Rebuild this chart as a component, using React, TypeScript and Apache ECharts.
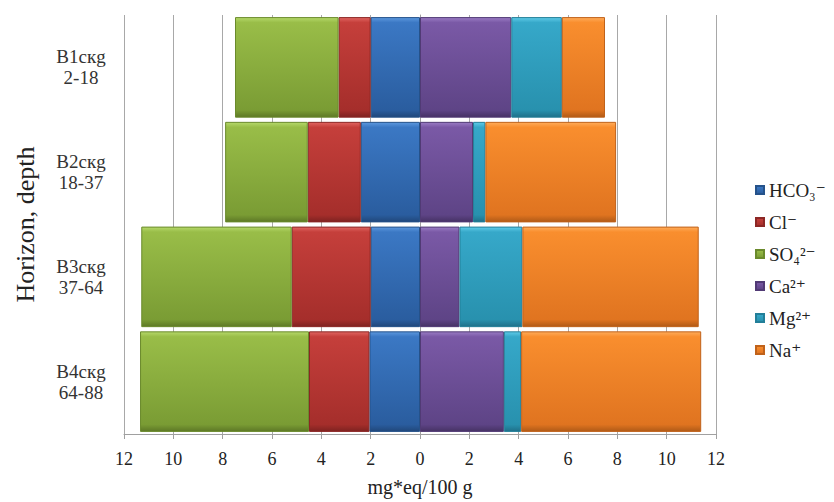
import React, { useEffect, useRef } from "react";
import * as echarts from "echarts";

const categories = ["B1скg\n2-18", "B2скg\n18-37", "B3скg\n37-64", "B4скg\n64-88"];
const hco3 = [2.0, 2.4, 2.0, 2.05];
const cl = [1.3, 2.15, 3.2, 2.45];
const so4 = [4.2, 3.35, 6.1, 6.85];
const ca = [3.7, 2.15, 1.6, 3.4];
const mg = [2.05, 0.5, 2.55, 0.7];
const na = [1.75, 5.3, 7.15, 7.3];
const xTicks = { min: -12, max: 12, interval: 2 };

const FONT = "'Liberation Serif', 'DejaVu Serif', serif";

function grad(light: string, top: string, bottom: string, dark: string) {
  return new echarts.graphic.LinearGradient(0, 0, 0, 1, [
    { offset: 0, color: light },
    { offset: 0.05, color: top },
    { offset: 0.93, color: bottom },
    { offset: 1, color: dark },
  ]);
}

export default function App() {
  const ref = useRef<HTMLDivElement>(null);
  useEffect(() => {
    if (!ref.current) return;
    const chart = echarts.init(ref.current, undefined, { renderer: "svg" });
    const mk = (name: string, data: number[], neg: boolean, c: string[]) => ({
      name,
      type: "bar",
      stack: "total",
      barCategoryGap: "4%",
      data: data.map((v) => (neg ? -v : v)),
      itemStyle: { color: grad(c[0], c[1], c[2], c[3]), borderColor: c[4], borderWidth: 1 },
    });
    chart.setOption({
      animation: false,
      backgroundColor: "#ffffff",
      textStyle: { fontFamily: FONT },
      grid: { left: 124, right: 118, top: 15, bottom: 65, containLabel: false },
      legend: {
        orient: "vertical",
        left: 750,
        top: 175,
        itemWidth: 8,
        itemHeight: 8,
        itemGap: 12,
        itemTextGap: 5,
        icon: "rect",
        textStyle: { fontFamily: FONT, fontSize: 19, lineHeight: 20, color: "#222" },
        data: ["HCO₃⁻", "Cl⁻", "SO₄²⁻", "Ca²⁺", "Mg²⁺", "Na⁺"],
      },
      xAxis: {
        type: "value",
        min: xTicks.min,
        max: xTicks.max,
        interval: xTicks.interval,
        name: "mg*eq/100 g",
        nameLocation: "middle",
        nameGap: 43,
        nameTextStyle: { fontFamily: FONT, fontSize: 20, color: "#222" },
        axisLine: { show: true, lineStyle: { color: "#a0a0a0" } },
        axisTick: { show: true, length: 5, lineStyle: { color: "#a0a0a0" } },
        axisLabel: {
          fontFamily: FONT,
          fontSize: 18,
          color: "#222",
          margin: 16,
          formatter: (v: number) => String(Math.abs(v)),
        },
        splitLine: { show: true, lineStyle: { color: "#a8a8a8", width: 1 } },
      },
      yAxis: {
        type: "category",
        inverse: true,
        data: categories,
        name: "Horizon, depth",
        nameLocation: "middle",
        nameRotate: 90,
        nameGap: 86,
        nameTextStyle: { fontFamily: FONT, fontSize: 26, color: "#222" },
        axisLine: { show: true, lineStyle: { color: "#a0a0a0" } },
        axisTick: { show: false },
        axisLabel: {
          fontFamily: FONT,
          fontSize: 19,
          lineHeight: 21,
          color: "#333",
          align: "center",
          margin: 43,
        },
      },
      series: [
        mk("HCO₃⁻", hco3, true, ["#5d98de", "#3b78c4", "#2a5d9f", "#20477a", "#25528a"]),
        mk("Cl⁻", cl, true, ["#e06561", "#c53f3b", "#a52e2b", "#7e2220", "#8c2725"]),
        mk("SO₄²⁻", so4, true, ["#b5d86a", "#99bd48", "#7a9c34", "#5d7826", "#6a8a2c"]),
        mk("Ca²⁺", ca, false, ["#9a7cc4", "#7a59a6", "#5e4486", "#463264", "#513a75"]),
        mk("Mg²⁺", mg, false, ["#5fcbe8", "#36a8c9", "#2891ae", "#1f7089", "#237f99"]),
        mk("Na⁺", na, false, ["#ffac5a", "#f98e2e", "#e07420", "#b05a17", "#c0621a"]),
      ],
    });
    return () => chart.dispose();
  }, []);
  return (
    <div
      ref={ref}
      style={{ position: "absolute", left: 0, top: 0, width: 834, height: 502 }}
    />
  );
}
